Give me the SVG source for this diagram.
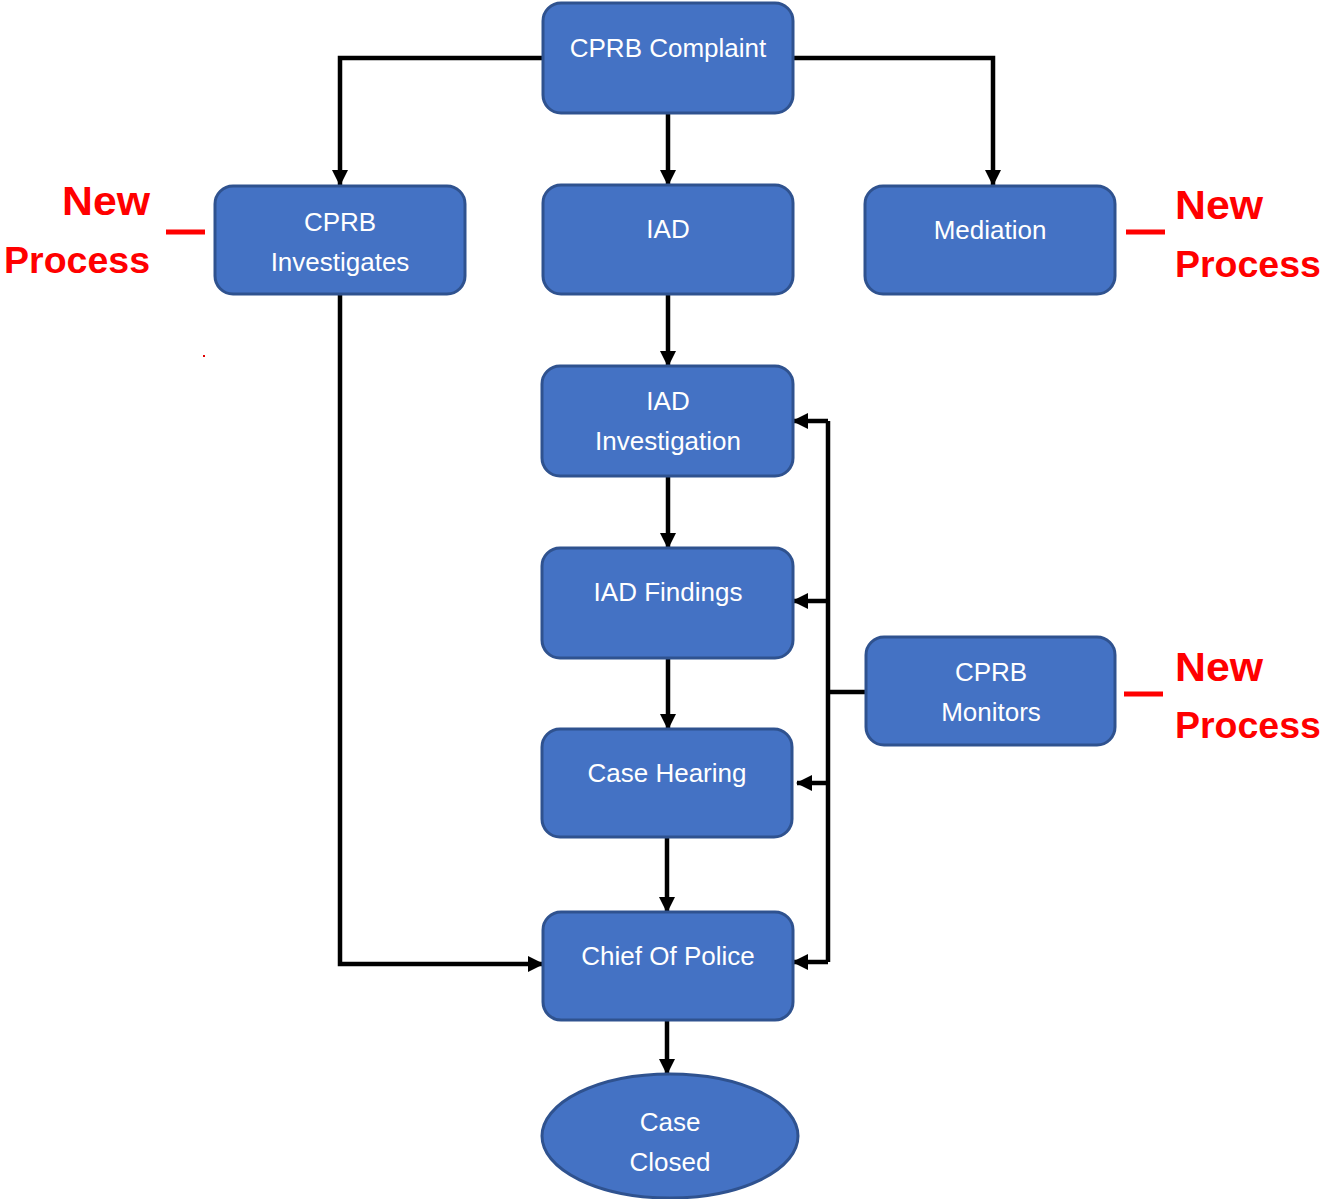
<svg xmlns="http://www.w3.org/2000/svg" width="1327" height="1199" viewBox="0 0 1327 1199">
<style>
.box{fill:#4472C4;stroke:#2F528F;stroke-width:3}
.t{font-family:"Liberation Sans",Arial,sans-serif;font-size:26px;fill:#fff;text-anchor:middle}
.red{font-family:"Liberation Sans",Arial,sans-serif;font-size:40px;font-weight:bold;fill:#FF0000}
.proc{font-size:37.5px}
.c{fill:none;stroke:#000;stroke-width:4.5}
.dash{stroke:#FF0000;stroke-width:5}
</style>
<defs>
<marker id="ah" markerUnits="userSpaceOnUse" markerWidth="16" markerHeight="16" refX="15" refY="8" orient="auto">
<path d="M0,0 L16,8 L0,16 z" fill="#000"/>
</marker>
</defs>
<rect width="1327" height="1199" fill="#fff"/>
<g id="connectors">
<path class="c" d="M543,58 H340 V185" marker-end="url(#ah)"/>
<path class="c" d="M793,58 H993 V185" marker-end="url(#ah)"/>
<path class="c" d="M668,113 V185" marker-end="url(#ah)"/>
<path class="c" d="M668,294 V366" marker-end="url(#ah)"/>
<path class="c" d="M668,476 V548" marker-end="url(#ah)"/>
<path class="c" d="M668,658 V729" marker-end="url(#ah)"/>
<path class="c" d="M667,837 V912" marker-end="url(#ah)"/>
<path class="c" d="M667,1020 V1074" marker-end="url(#ah)"/>
<path class="c" d="M340,292 V964 H543" marker-end="url(#ah)"/>
<path class="c" d="M866,692 H828"/>
<path class="c" d="M828,421 V962"/>
<path class="c" d="M828,421 H793" marker-end="url(#ah)"/>
<path class="c" d="M828,601 H793" marker-end="url(#ah)"/>
<path class="c" d="M828,783 H797" marker-end="url(#ah)"/>
<path class="c" d="M828,962 H793" marker-end="url(#ah)"/>
</g>
<g id="n-complaint"><rect class="box" x="543" y="3" width="250" height="110" rx="18"/><text class="t" x="668" y="57">CPRB Complaint</text></g>
<g id="n-investigates"><rect class="box" x="215" y="186" width="250" height="108" rx="18"/><text class="t" x="340" y="231">CPRB</text><text class="t" x="340" y="271">Investigates</text></g>
<g id="n-iad"><rect class="box" x="543" y="185" width="250" height="109" rx="18"/><text class="t" x="668" y="238">IAD</text></g>
<g id="n-mediation"><rect class="box" x="865" y="186" width="250" height="108" rx="18"/><text class="t" x="990" y="239">Mediation</text></g>
<g id="n-iadinv"><rect class="box" x="542" y="366" width="251" height="110" rx="18"/><text class="t" x="668" y="410">IAD</text><text class="t" x="668" y="450">Investigation</text></g>
<g id="n-findings"><rect class="box" x="542" y="548" width="251" height="110" rx="18"/><text class="t" x="668" y="601">IAD Findings</text></g>
<g id="n-monitors"><rect class="box" x="866" y="637" width="249" height="108" rx="18"/><text class="t" x="991" y="681">CPRB</text><text class="t" x="991" y="721">Monitors</text></g>
<g id="n-hearing"><rect class="box" x="542" y="729" width="250" height="108" rx="18"/><text class="t" x="667" y="782">Case Hearing</text></g>
<g id="n-chief"><rect class="box" x="543" y="912" width="250" height="108" rx="18"/><text class="t" x="668" y="965">Chief Of Police</text></g>
<g id="n-closed"><ellipse class="box" cx="670" cy="1136" rx="128" ry="62"/><text class="t" x="670" y="1131">Case</text><text class="t" x="670" y="1171">Closed</text></g>
<g id="labels">
<text class="red" x="150" y="215" text-anchor="end" textLength="88" lengthAdjust="spacingAndGlyphs">New</text>
<text class="red proc" x="150" y="273" text-anchor="end">Process</text>
<line class="dash" x1="166" y1="232" x2="205" y2="232"/>
<text class="red" x="1175" y="219" textLength="88" lengthAdjust="spacingAndGlyphs">New</text>
<text class="red proc" x="1175" y="277">Process</text>
<line class="dash" x1="1126" y1="232" x2="1165" y2="232"/>
<text class="red" x="1175" y="681" textLength="88" lengthAdjust="spacingAndGlyphs">New</text>
<text class="red proc" x="1175" y="738">Process</text>
<line class="dash" x1="1124" y1="694" x2="1163" y2="694"/>
<rect x="203" y="355" width="2" height="2" fill="#E00000"/>
</g>
</svg>
